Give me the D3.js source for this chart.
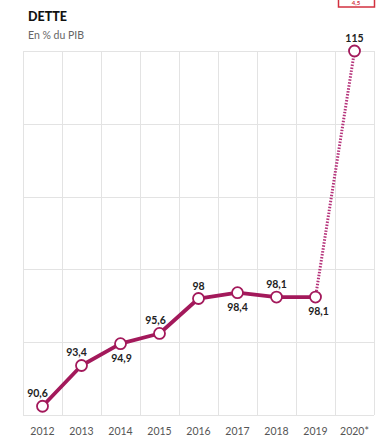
<!DOCTYPE html>
<html>
<head>
<meta charset="utf-8">
<script src="https://cdn.jsdelivr.net/npm/d3@7"></script>
<style>
  html, body { margin: 0; padding: 0; background: #fff; }
  svg { display: block; font-family: Lato, "Open Sans", sans-serif; }
</style>
</head>
<body>
<svg id="chart" width="380" height="437"></svg>
<script>
// Dette publique, en % du PIB
const years = ["2012", "2013", "2014", "2015", "2016", "2017", "2018", "2019", "2020*"];
const values = [90.6, 93.4, 94.9, 95.6, 98, 98.4, 98.1, 98.1, 115];
const valueLabels = ["90,6", "93,4", "94,9", "95,6", "98", "98,4", "98,1", "98,1", "115"];
// label placement: above (-1) or below (+1) the point
const labelSide = [-1, -1, 1, -1, -1, 1, -1, 1, -1];
const gridValues = [90, 95, 100, 105, 110, 115];

const svg = d3.select("#chart");
const lineColor = "#a3195b";

const x = d3.scaleBand().domain(years).range([23, 374]);
const y = d3.scaleLinear().domain([90, 115]).range([415, 51]);
const cx = d => x(d) + x.bandwidth() / 2;

// title
svg.append("text").attr("x", 28).attr("y", 21)
  .attr("font-size", 12.5).attr("font-weight", 900).attr("fill", "#111")
  .text("DETTE");
svg.append("text").attr("x", 28).attr("y", 39)
  .attr("font-size", 10.5).attr("fill", "#666")
  .text("En % du PIB");

// small red box at the top edge
svg.append("rect").attr("x", 338.5).attr("y", -12).attr("width", 36).attr("height", 19)
  .attr("fill", "none").attr("stroke", "#d2303f").attr("stroke-width", 1.5);
svg.append("text").attr("x", 356).attr("y", 5).attr("text-anchor", "middle")
  .attr("font-size", 6).attr("font-weight", 700).attr("fill", "#d2303f").text("4,5");

// grid
const grid = svg.append("g").attr("stroke", "#e3e3e3").attr("stroke-width", 1);
grid.selectAll("line.h").data(gridValues).join("line")
  .attr("x1", 23).attr("x2", 374)
  .attr("y1", d => Math.round(y(d)) + 0.5).attr("y2", d => Math.round(y(d)) + 0.5);
const bounds = years.map(d => x(d)).concat([x(years[years.length - 1]) + x.bandwidth()]);
grid.selectAll("line.v").data(bounds).join("line")
  .attr("x1", d => Math.round(d) + 0.5).attr("x2", d => Math.round(d) + 0.5)
  .attr("y1", y(115)).attr("y2", y(90));

// x axis labels
svg.append("g").selectAll("text").data(years).join("text")
  .attr("x", d => cx(d)).attr("y", 435)
  .attr("text-anchor", "middle").attr("font-size", 10.5).attr("fill", "#555")
  .text(d => d);

const pts = years.map((d, i) => ({ year: d, v: values[i], i }));
const line = d3.line().x(d => cx(d.year)).y(d => y(d.v));

// observed series
svg.append("path").datum(pts.slice(0, 8))
  .attr("d", line).attr("fill", "none")
  .attr("stroke", lineColor).attr("stroke-width", 3.8)
  .attr("stroke-linejoin", "round");

// projection 2019 -> 2020
svg.append("path").datum(pts.slice(7))
  .attr("d", line).attr("fill", "none")
  .attr("stroke", "#b5327a").attr("stroke-width", 3)
  .attr("stroke-dasharray", "1.5,1.5");

// markers
svg.append("g").selectAll("circle").data(pts).join("circle")
  .attr("cx", d => cx(d.year)).attr("cy", d => y(d.v)).attr("r", 5.5)
  .attr("fill", "#fff").attr("stroke", lineColor).attr("stroke-width", 1.8);

// value labels
const labelDx = [-5, -5, 1, -4, 0, 0, 0, 3, 0];
svg.append("g").selectAll("text").data(pts).join("text")
  .attr("x", d => cx(d.year) + labelDx[d.i])
  .attr("y", d => y(d.v) + (labelSide[d.i] < 0 ? -9 : 18))
  .attr("text-anchor", "middle").attr("font-size", 10.5).attr("font-weight", 700)
  .attr("fill", "#222")
  .text(d => valueLabels[d.i]);
</script>
</body>
</html>
